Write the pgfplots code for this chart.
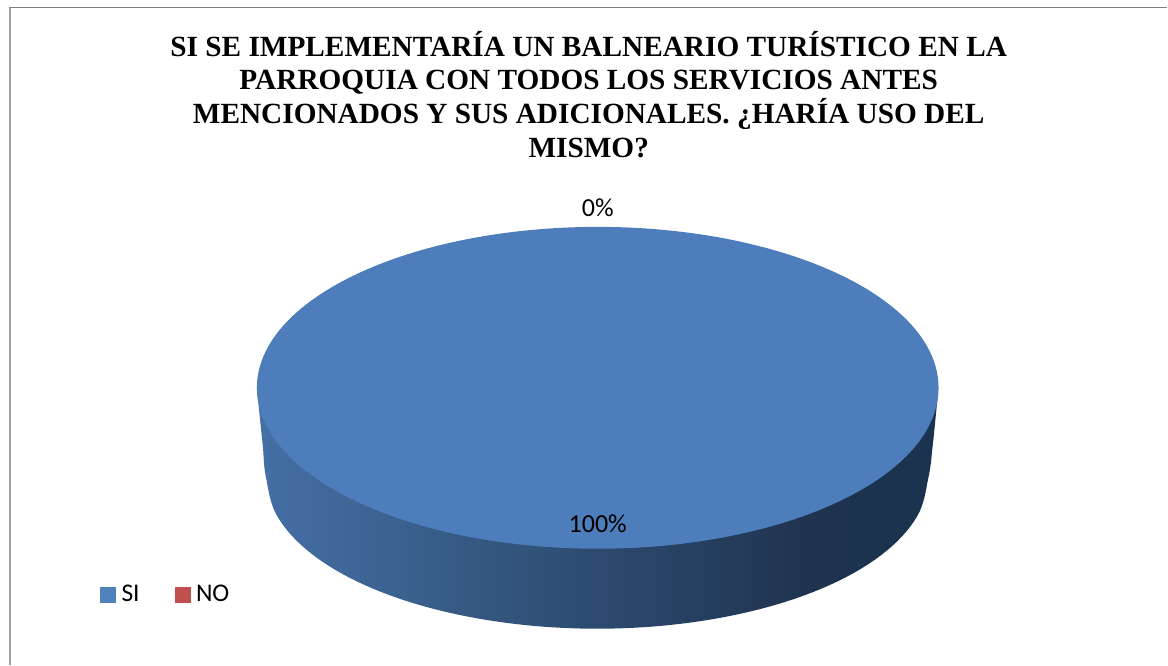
\documentclass[border=0pt]{standalone}
\usepackage{fontspec}
\usepackage{pgfplots}
\pgfplotsset{compat=1.18}
\setmainfont{Liberation Serif}
\newfontfamily\calibrifont{Carlito}
\definecolor{sliceSI}{HTML}{4D7DBB}
\definecolor{keySI}{HTML}{4F81BD}
\definecolor{keyNO}{HTML}{C0504D}
\definecolor{rimA}{HTML}{4672A8}
\definecolor{rimB}{HTML}{436EA3}
\definecolor{rimC}{HTML}{3B618F}
\definecolor{rimD}{HTML}{33557D}
\definecolor{rimE}{HTML}{2C4A70}
\definecolor{rimF}{HTML}{263F60}
\definecolor{rimG}{HTML}{20344F}
\definecolor{rimH}{HTML}{1C3350}
% Rim of the disc darkens from left to right; the path spans 25bp to 75bp.
\pgfdeclarehorizontalshading{pierim}{100bp}{
  color(0bp)=(rimA);
  color(25bp)=(rimA);
  color(26bp)=(rimB);
  color(35.5bp)=(rimC);
  color(43bp)=(rimD);
  color(50bp)=(rimE);
  color(57.5bp)=(rimF);
  color(65bp)=(rimG);
  color(69bp)=(rimH);
  color(100bp)=(rimH)
}
\begin{document}
\begin{tikzpicture}
\begin{axis}[
  scale only axis, width=1168pt, height=665pt,
  xmin=0, xmax=1168, ymin=0, ymax=665,
  hide axis, clip=false,
  title={SI SE IMPLEMENTARÍA UN BALNEARIO TURÍSTICO EN LA\\PARROQUIA CON TODOS LOS SERVICIOS ANTES\\MENCIONADOS Y SUS ADICIONALES. ¿HARÍA USO DEL\\MISMO?},
  title style={at={(axis cs:589,628)}, anchor=north, inner sep=0pt, align=center,
    font=\fontsize{29.3}{33.6}\selectfont\bfseries},
  legend style={at={(0.0856,0.106)}, anchor=west, draw=none, fill=none, inner sep=0pt,
    font=\fontsize{25.5}{28}\calibrifont, legend columns=2},
  legend cell align=left,
]
\path (axis cs:0,0) rectangle (axis cs:1168,665);

% Chart frame: left and top edges
\addplot[forget plot, draw=black!37, line width=2pt] coordinates {(10,0) (10,658)};
\addplot[forget plot, draw=black!50, line width=1.1pt] coordinates {(9,657.7) (1168,657.7)};

% Rim of the disc (SI = 100 %)
\addplot[forget plot, draw=none, shade, shading=pierim, smooth, tension=0.61] coordinates {
  (939,277) (936,247) (933,218) (929,188)
  (917.7,148.7) (884.6,112) (831.9,80.5) (763.3,56.4) (683.3,41.2) (597.5,36)
  (511.7,41.2) (431.7,56.4) (363.1,80.5) (310.4,112) (277.3,148.7)
  (266,188) (263,218) (260,247) (257,277)
};

% Upper face of the disc (SI = 100 %), its ends overlapping so that the outline stays round
\addplot[forget plot, draw=none, fill=sliceSI, smooth, tension=0.61] coordinates {
  (927.4,235.3)
  (939,277) (927.4,318.7) (893.3,357.5) (839.1,390.8) (768.5,416.4) (686.3,432.5)
  (598,438) (509.7,432.5) (427.5,416.4) (356.9,390.8) (302.7,357.5) (268.6,318.7)
  (257,277) (268.6,235.3) (302.7,196.5) (356.9,163.2) (427.5,137.6) (509.7,121.5)
  (598,116) (686.3,121.5) (768.5,137.6) (839.1,163.2) (893.3,196.5) (927.4,235.3)
  (939,277) (927.4,318.7)
};

% Legend keys
\addlegendimage{legend image code/.code={\fill[keySI] (0pt,-7.5pt) rectangle (15pt,7.5pt);}}
\addlegendentry{\hspace{4pt}SI\hspace{33pt}\mbox{}}
\addlegendimage{legend image code/.code={\fill[keyNO] (0pt,-7.5pt) rectangle (15pt,7.5pt);}}
\addlegendentry{\hspace{4pt}NO}

% Share labels
\node[anchor=base, inner sep=0pt, font=\fontsize{26}{28}\calibrifont] at (axis cs:598,132.5) {100\%};
\node[anchor=base, inner sep=0pt, font=\fontsize{26}{28}\calibrifont] at (axis cs:598,448) {0\%};
\end{axis}
\end{tikzpicture}
\end{document}
